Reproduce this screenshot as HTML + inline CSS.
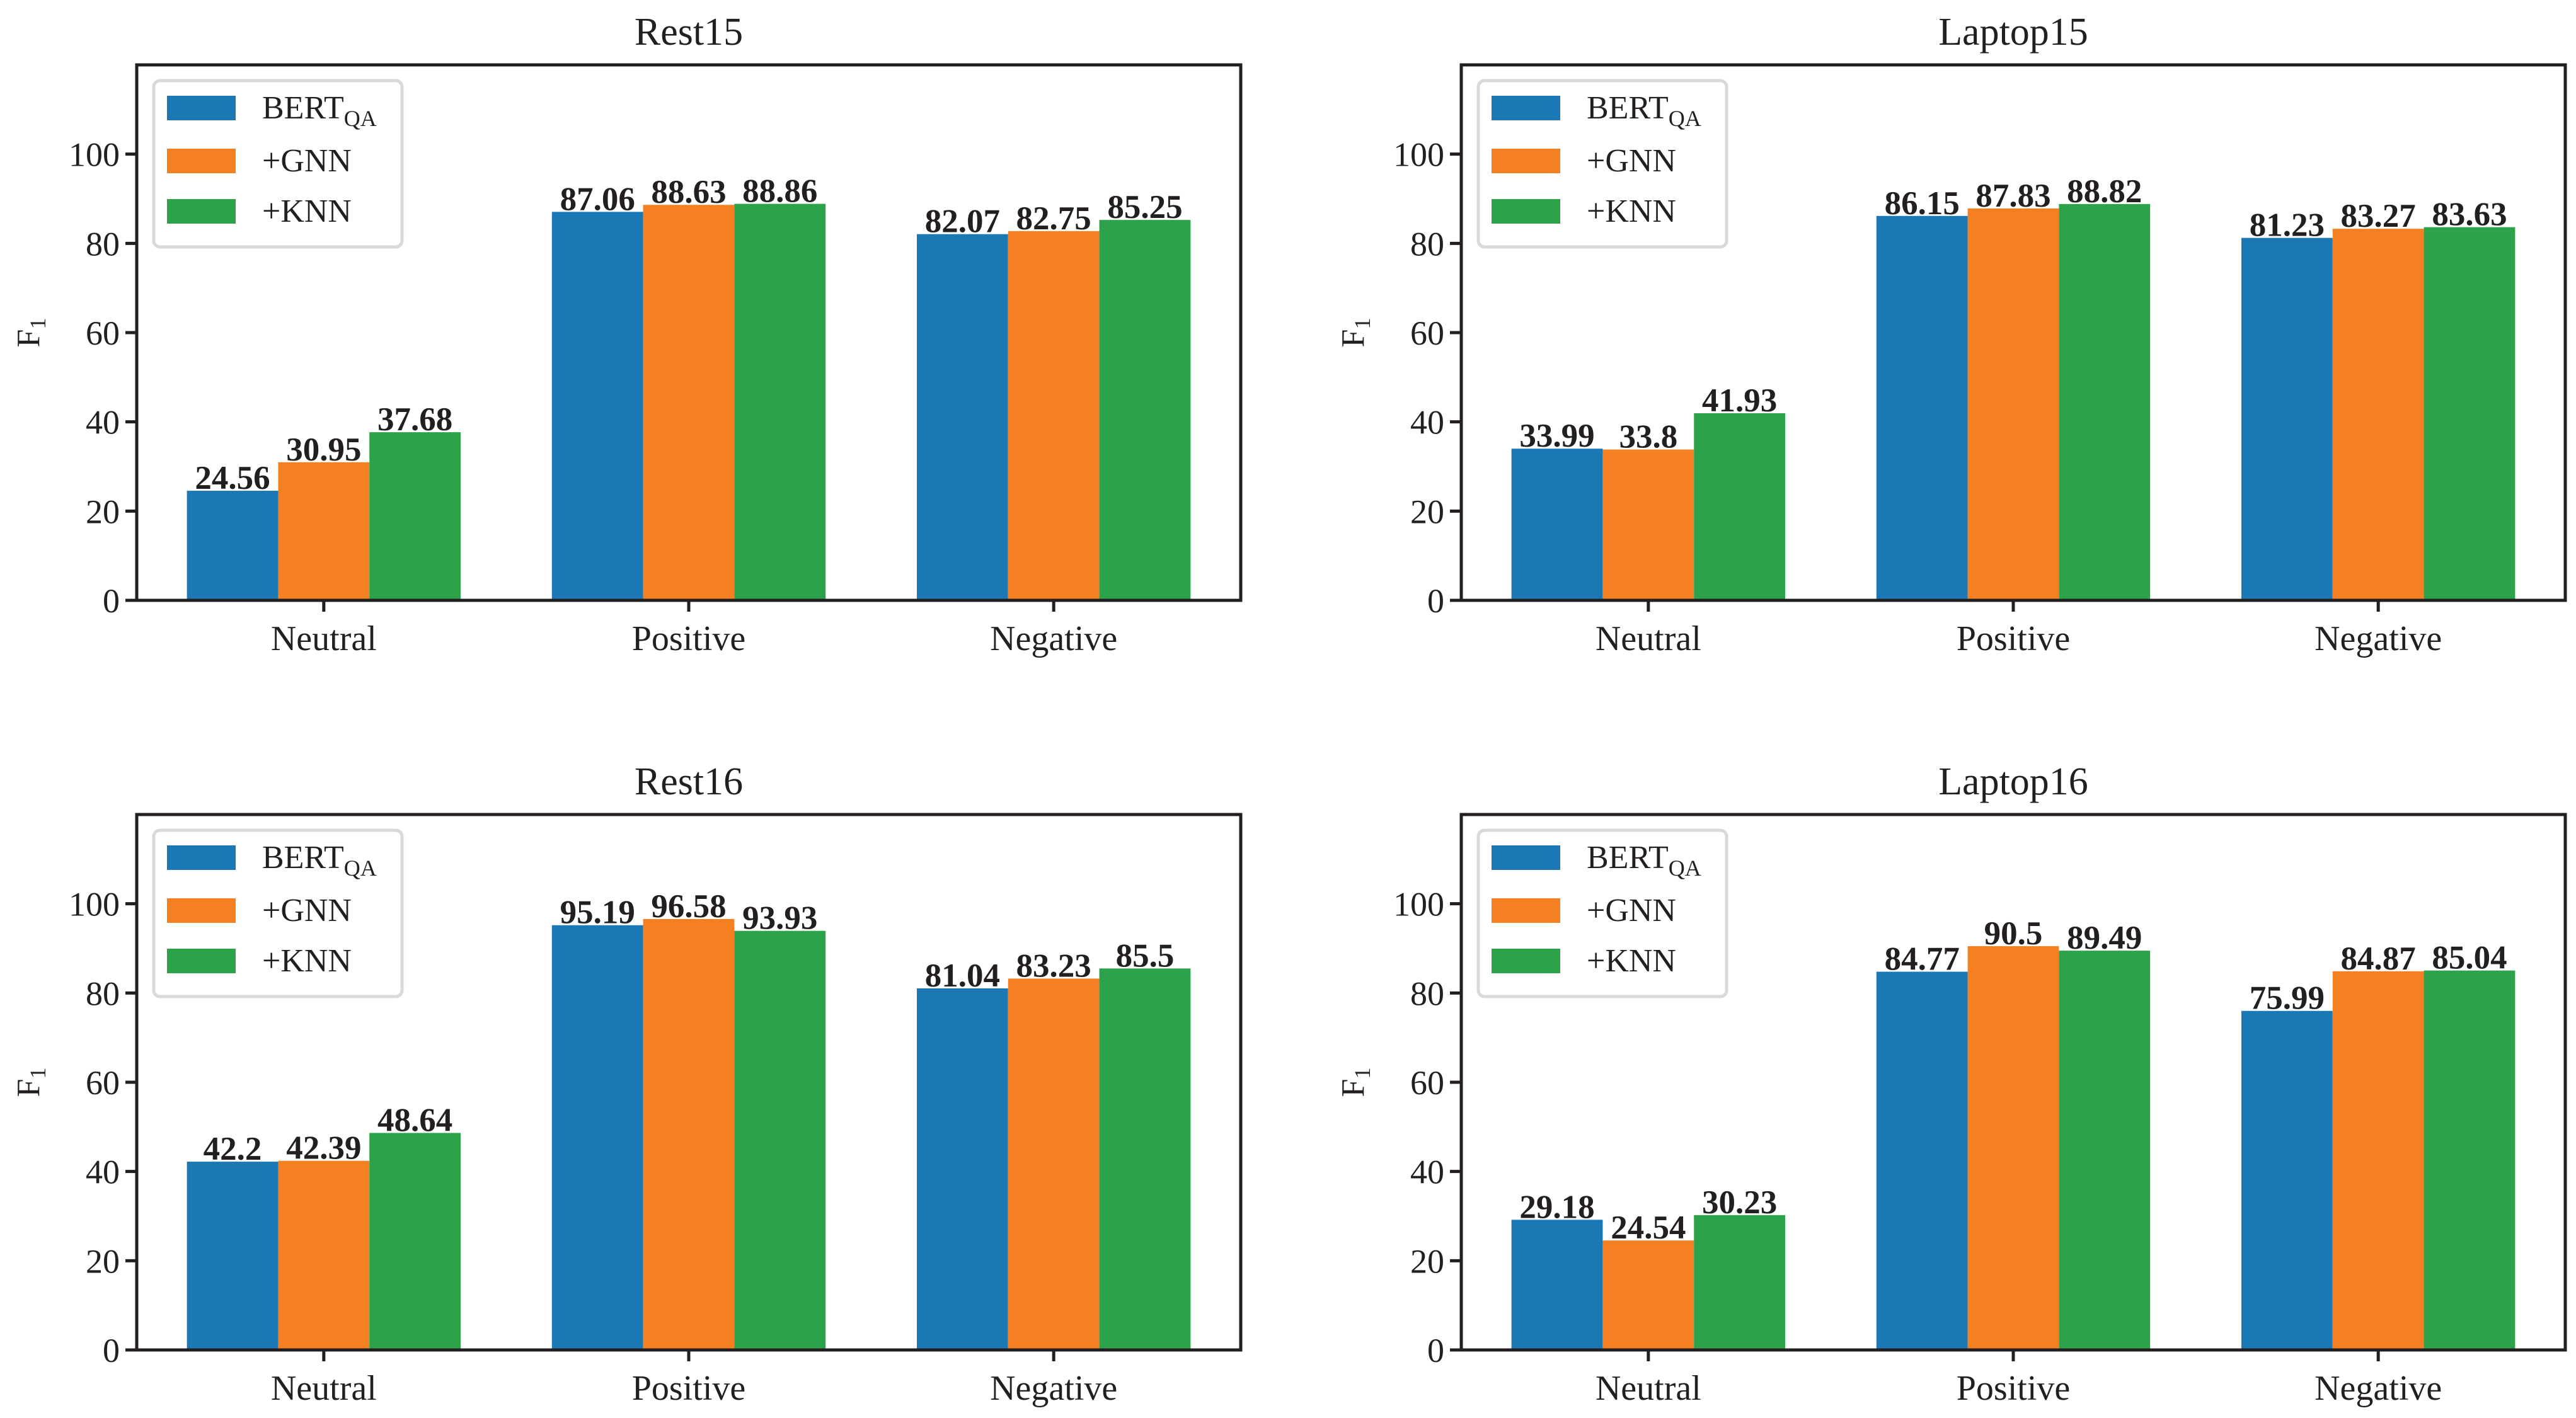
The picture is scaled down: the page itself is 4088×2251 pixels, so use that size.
<!DOCTYPE html>
<html><head><meta charset="utf-8"><style>
html,body{margin:0;padding:0;background:#fff}
svg{display:block}
text{font-family:"Liberation Serif",serif;fill:#231f20}
</style></head><body>
<svg id="fig" width="4088" height="2251" viewBox="0 0 4088 2251" xmlns="http://www.w3.org/2000/svg"></svg>
<script>
const categories = ["Neutral","Positive","Negative"];
const seriesNames = ["BERT","+GNN","+KNN"];
const panelTitles = ["Rest15","Laptop15","Rest16","Laptop16"];
const rest15Bert = [24.56,87.06,82.07];
const rest15Gnn = [30.95,88.63,82.75];
const rest15Knn = [37.68,88.86,85.25];
const laptop15Bert = [33.99,86.15,81.23];
const laptop15Gnn = [33.8,87.83,83.27];
const laptop15Knn = [41.93,88.82,83.63];
const rest16Bert = [42.2,95.19,81.04];
const rest16Gnn = [42.39,96.58,83.23];
const rest16Knn = [48.64,93.93,85.5];
const laptop16Bert = [29.18,84.77,75.99];
const laptop16Gnn = [24.54,90.5,84.87];
const laptop16Knn = [30.23,89.49,85.04];
const yTicks = [0,20,40,60,80,100];

const panelData = [
  [rest15Bert,rest15Gnn,rest15Knn],
  [laptop15Bert,laptop15Gnn,laptop15Knn],
  [rest16Bert,rest16Gnn,rest16Knn],
  [laptop16Bert,laptop16Gnn,laptop16Knn]
];
const colors = ["#1b78b4","#f58022","#2ca34a"];
const NS = "http://www.w3.org/2000/svg";
const fig = document.getElementById('fig');
function mk(tag, attrs, parent){
  const e = document.createElementNS(NS, tag);
  for (const k in attrs) e.setAttribute(k, attrs[k]);
  parent.appendChild(e);
  return e;
}
const AW = 1752, AH = 850;
const origins = [[217,103],[2319,103],[217,1293],[2319,1293]];
const XMIN = -0.5125, XMAX = 2.5125, YMAX = 120, BW = 0.25;

panelData.forEach((series, p) => {
  const [ox, oy] = origins[p];
  const g = mk('g', {}, fig);
  
  
  const xs = v => ox + (v - XMIN) / (XMAX - XMIN) * AW;
  const ys = v => oy + AH - v / YMAX * AH;

  series.forEach((vals, s) => {
    vals.forEach((v, c) => {
      const x0 = xs(c + (s - 1) * BW - BW / 2);
      const x1 = xs(c + (s - 1) * BW + BW / 2);
      const r = mk('rect', {x: x0, y: ys(v), width: x1 - x0, height: ys(0) - ys(v), fill: colors[s]}, g);
      
      
      const t = mk('text', {x: (x0 + x1) / 2, y: ys(v) - 3, 'text-anchor': 'middle', 'font-size': 53, 'font-weight': 'bold'}, g);
      t.textContent = String(v);
      
      
    });
  });

  const frame = mk('rect', {x: ox, y: oy, width: AW, height: AH, fill: 'none', stroke: '#231f20', 'stroke-width': 5}, g);
  
  

  yTicks.forEach(v => {
    const y = ys(v);
    mk('line', {x1: ox - 18, x2: ox, y1: y, y2: y, stroke: '#231f20', 'stroke-width': 5}, g);
    const t = mk('text', {x: ox - 27, y: y + 19, 'text-anchor': 'end', 'font-size': 54}, g);
    t.textContent = v;
    
    
  });
  categories.forEach((c, i) => {
    const x = xs(i);
    mk('line', {x1: x, x2: x, y1: oy + AH, y2: oy + AH + 18, stroke: '#231f20', 'stroke-width': 5}, g);
    const t = mk('text', {x: x, y: oy + AH + 79, 'text-anchor': 'middle', 'font-size': 56}, g);
    t.textContent = c;
    
    
  });
  const tt = mk('text', {x: ox + AW / 2, y: oy - 32, 'text-anchor': 'middle', 'font-size': 62}, g);
  tt.textContent = panelTitles[p];
  
  
  const yl = mk('text', {x: 0, y: 0, 'text-anchor': 'middle', 'font-size': 52, transform: `translate(${ox - 155},${oy + AH / 2}) rotate(-90)`}, g);
  
  
  yl.innerHTML = 'F<tspan font-size="36" dy="10">1</tspan>';

  const lg = mk('g', {}, g);
  
  
  mk('rect', {x: ox + 27, y: oy + 25, width: 394, height: 264, rx: 10, fill: '#fff', stroke: '#d8d9da', 'stroke-width': 5}, lg);
  const baselines = [85, 169, 249];
  seriesNames.forEach((n, s) => {
    const sw = mk('rect', {x: ox + 48, y: oy + baselines[s] - 36, width: 109, height: 39, fill: colors[s]}, lg);
    
    
    const t = mk('text', {x: ox + 199, y: oy + baselines[s], 'font-size': 52}, lg);
    
    
    if (s === 0) t.innerHTML = 'BERT<tspan font-size="36" dy="12">QA</tspan>';
    else t.textContent = n;
  });
});
</script>
</body></html>
